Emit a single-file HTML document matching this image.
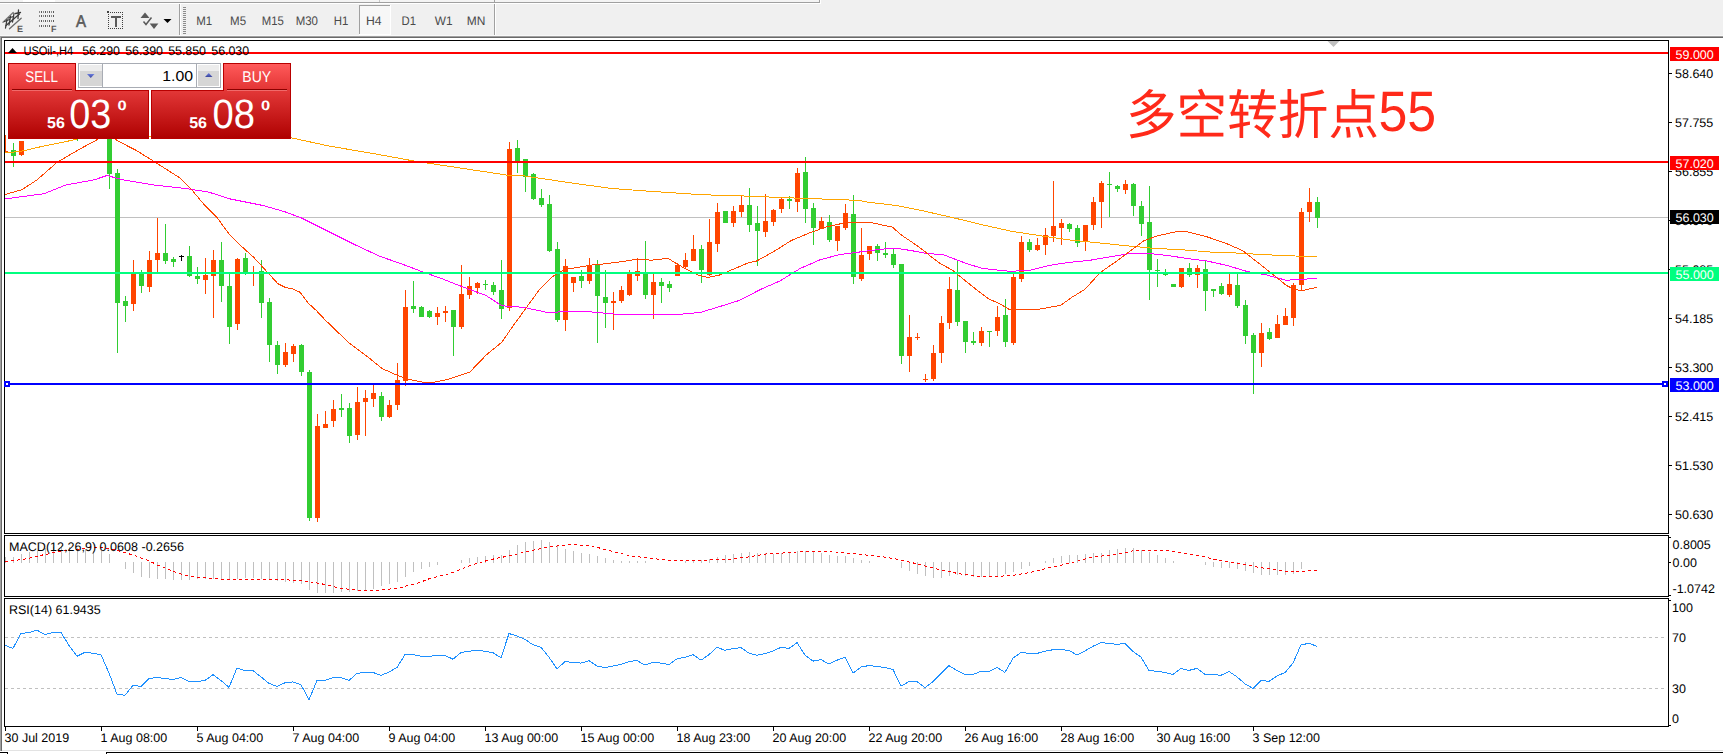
<!DOCTYPE html>
<html><head><meta charset="utf-8"><title>USOil H4</title>
<style>html,body{margin:0;padding:0;background:#f0f0f0;}body{width:1723px;height:754px;overflow:hidden;}text{text-rendering:geometricPrecision;}</style>
</head><body>
<svg width="1723" height="754" viewBox="0 0 1723 754" shape-rendering="crispEdges" style="display:block">
<defs>
<linearGradient id="gtab" x1="0" y1="0" x2="0" y2="1"><stop offset="0" stop-color="#ff5a5a"/><stop offset="1" stop-color="#e23434"/></linearGradient>
<linearGradient id="gbox" gradientUnits="userSpaceOnUse" x1="0" y1="90" x2="0" y2="139"><stop offset="0" stop-color="#e33838"/><stop offset="1" stop-color="#ae0000"/></linearGradient>
<linearGradient id="gtri" x1="0" y1="0" x2="0" y2="1"><stop offset="0" stop-color="#6a7ee0"/><stop offset="1" stop-color="#3a449a"/></linearGradient>
<clipPath id="cmain"><rect x="5" y="41" width="1663" height="492"/></clipPath>
<clipPath id="cmacd"><rect x="5" y="536" width="1663" height="60"/></clipPath>
<clipPath id="crsi"><rect x="5" y="599" width="1663" height="127"/></clipPath>
</defs>
<rect x="0" y="0" width="1723" height="754" fill="#f0f0f0"/>
<rect x="23" y="0" width="32" height="2" fill="#ffffff"/>
<rect x="0" y="2" width="820" height="1" fill="#a0a0a0"/>
<rect x="0" y="3" width="820" height="1" fill="#ffffff"/>
<rect x="819" y="0" width="1" height="3" fill="#a0a0a0"/>
<rect x="820" y="0" width="1" height="4" fill="#ffffff"/>
<rect x="0" y="0" width="819" height="2" fill="#f4f4f4"/>
<rect x="23" y="0" width="32" height="2" fill="#ffffff"/>
<rect x="494" y="0" width="1" height="3" fill="#a0a0a0"/>
<rect x="379" y="0" width="1" height="2" fill="#c8c8c8"/>
<g fill="none" shape-rendering="geometricPrecision" stroke-linecap="round"><line x1="3" y1="22.2" x2="13.2" y2="12.5" stroke="#7a7a7a" stroke-width="1.3"/><line x1="9.5" y1="28.7" x2="21.2" y2="18.3" stroke="#6a6a6a" stroke-width="1.3"/><g stroke="#3c3c3c" stroke-width="1.3"><line x1="5.5" y1="28" x2="7" y2="19.5"/><line x1="9" y1="25" x2="10.5" y2="16.5"/><line x1="12.5" y1="22" x2="14" y2="13.5"/><line x1="18" y1="18.5" x2="18.5" y2="10"/><line x1="4.5" y1="21.5" x2="9.5" y2="19.5"/><line x1="8.5" y1="18" x2="13.5" y2="16.5"/><line x1="15.5" y1="13.5" x2="20.5" y2="12.5"/><line x1="6" y1="25.5" x2="19.5" y2="14"/></g></g>
<text x="17" y="31.5" font-family='"Liberation Sans", "DejaVu Sans", sans-serif' font-size="9" fill="#5a5a5a" text-anchor="start" font-weight="bold">E</text>
<rect x="39" y="11" width="1" height="2" fill="#8a8a8a"/>
<rect x="41" y="11" width="1" height="2" fill="#5a5a5a"/>
<rect x="43" y="11" width="1" height="2" fill="#8a8a8a"/>
<rect x="45" y="11" width="1" height="2" fill="#5a5a5a"/>
<rect x="47" y="11" width="1" height="2" fill="#8a8a8a"/>
<rect x="49" y="11" width="1" height="2" fill="#5a5a5a"/>
<rect x="51" y="11" width="1" height="2" fill="#8a8a8a"/>
<rect x="53" y="11" width="1" height="2" fill="#5a5a5a"/>
<rect x="39" y="15" width="1" height="2" fill="#8a8a8a"/>
<rect x="41" y="15" width="1" height="2" fill="#5a5a5a"/>
<rect x="43" y="15" width="1" height="2" fill="#8a8a8a"/>
<rect x="45" y="15" width="1" height="2" fill="#5a5a5a"/>
<rect x="47" y="15" width="1" height="2" fill="#8a8a8a"/>
<rect x="49" y="15" width="1" height="2" fill="#5a5a5a"/>
<rect x="51" y="15" width="1" height="2" fill="#8a8a8a"/>
<rect x="53" y="15" width="1" height="2" fill="#5a5a5a"/>
<rect x="39" y="20" width="1" height="2" fill="#8a8a8a"/>
<rect x="41" y="20" width="1" height="2" fill="#5a5a5a"/>
<rect x="43" y="20" width="1" height="2" fill="#8a8a8a"/>
<rect x="45" y="20" width="1" height="2" fill="#5a5a5a"/>
<rect x="47" y="20" width="1" height="2" fill="#8a8a8a"/>
<rect x="49" y="20" width="1" height="2" fill="#5a5a5a"/>
<rect x="51" y="20" width="1" height="2" fill="#8a8a8a"/>
<rect x="53" y="20" width="1" height="2" fill="#5a5a5a"/>
<rect x="39" y="25" width="1" height="2" fill="#8a8a8a"/>
<rect x="41" y="25" width="1" height="2" fill="#5a5a5a"/>
<rect x="43" y="25" width="1" height="2" fill="#8a8a8a"/>
<rect x="45" y="25" width="1" height="2" fill="#5a5a5a"/>
<rect x="47" y="25" width="1" height="2" fill="#8a8a8a"/>
<rect x="49" y="25" width="1" height="2" fill="#5a5a5a"/>
<text x="51" y="31.5" font-family='"Liberation Sans", "DejaVu Sans", sans-serif' font-size="9" fill="#5a5a5a" text-anchor="start" font-weight="bold">F</text>
<text x="81" y="26.8" font-family='"Liberation Sans", "DejaVu Sans", sans-serif' font-size="17" fill="#5a5a5a" text-anchor="middle" font-weight="normal" textLength="10" lengthAdjust="spacingAndGlyphs" stroke="#5a5a5a" stroke-width="0.6">A</text>
<rect x="108" y="12" width="1" height="1" fill="#404040"/>
<rect x="108" y="28" width="1" height="1" fill="#404040"/>
<rect x="110" y="12" width="1" height="1" fill="#404040"/>
<rect x="110" y="28" width="1" height="1" fill="#404040"/>
<rect x="112" y="12" width="1" height="1" fill="#404040"/>
<rect x="112" y="28" width="1" height="1" fill="#404040"/>
<rect x="114" y="12" width="1" height="1" fill="#404040"/>
<rect x="114" y="28" width="1" height="1" fill="#404040"/>
<rect x="116" y="12" width="1" height="1" fill="#404040"/>
<rect x="116" y="28" width="1" height="1" fill="#404040"/>
<rect x="118" y="12" width="1" height="1" fill="#404040"/>
<rect x="118" y="28" width="1" height="1" fill="#404040"/>
<rect x="120" y="12" width="1" height="1" fill="#404040"/>
<rect x="120" y="28" width="1" height="1" fill="#404040"/>
<rect x="122" y="12" width="1" height="1" fill="#404040"/>
<rect x="122" y="28" width="1" height="1" fill="#404040"/>
<rect x="108" y="12" width="1" height="1" fill="#404040"/>
<rect x="122" y="12" width="1" height="1" fill="#404040"/>
<rect x="108" y="14" width="1" height="1" fill="#404040"/>
<rect x="122" y="14" width="1" height="1" fill="#404040"/>
<rect x="108" y="16" width="1" height="1" fill="#404040"/>
<rect x="122" y="16" width="1" height="1" fill="#404040"/>
<rect x="108" y="18" width="1" height="1" fill="#404040"/>
<rect x="122" y="18" width="1" height="1" fill="#404040"/>
<rect x="108" y="20" width="1" height="1" fill="#404040"/>
<rect x="122" y="20" width="1" height="1" fill="#404040"/>
<rect x="108" y="22" width="1" height="1" fill="#404040"/>
<rect x="122" y="22" width="1" height="1" fill="#404040"/>
<rect x="108" y="24" width="1" height="1" fill="#404040"/>
<rect x="122" y="24" width="1" height="1" fill="#404040"/>
<rect x="108" y="26" width="1" height="1" fill="#404040"/>
<rect x="122" y="26" width="1" height="1" fill="#404040"/>
<rect x="108" y="28" width="1" height="1" fill="#404040"/>
<rect x="122" y="28" width="1" height="1" fill="#404040"/>
<rect x="107" y="11" width="2" height="2" fill="#404040"/>
<rect x="111" y="16" width="10" height="2" fill="#5a5a5a"/>
<rect x="115" y="16" width="2" height="11" fill="#5a5a5a"/>
<g fill="#5a5a5a" shape-rendering="geometricPrecision"><polygon points="140.5,18 145,12.5 149.5,18"/><polygon points="149.7,23.5 158.4,23.5 154,29"/></g>
<polyline points="143.5,21.5 146,24.5 151.5,17.5" fill="none" stroke="#5a5a5a" stroke-width="1.5" shape-rendering="geometricPrecision"/>
<polygon points="163.5,19 171.5,19 167.5,23" fill="#000" shape-rendering="geometricPrecision"/>
<rect x="179" y="4" width="1" height="32" fill="#a0a0a0"/>
<rect x="180" y="4" width="1" height="32" fill="#ffffff"/>
<rect x="183" y="7" width="3" height="1" fill="#8c8c8c"/>
<rect x="183" y="9" width="3" height="1" fill="#8c8c8c"/>
<rect x="183" y="11" width="3" height="1" fill="#8c8c8c"/>
<rect x="183" y="13" width="3" height="1" fill="#8c8c8c"/>
<rect x="183" y="15" width="3" height="1" fill="#8c8c8c"/>
<rect x="183" y="17" width="3" height="1" fill="#8c8c8c"/>
<rect x="183" y="19" width="3" height="1" fill="#8c8c8c"/>
<rect x="183" y="21" width="3" height="1" fill="#8c8c8c"/>
<rect x="183" y="23" width="3" height="1" fill="#8c8c8c"/>
<rect x="183" y="25" width="3" height="1" fill="#8c8c8c"/>
<rect x="183" y="27" width="3" height="1" fill="#8c8c8c"/>
<rect x="183" y="29" width="3" height="1" fill="#8c8c8c"/>
<rect x="183" y="31" width="3" height="1" fill="#8c8c8c"/>
<rect x="183" y="33" width="3" height="1" fill="#8c8c8c"/>
<rect x="494" y="4" width="1" height="32" fill="#a0a0a0"/>
<rect x="495" y="4" width="1" height="32" fill="#ffffff"/>
<rect x="359" y="5" width="32" height="30" fill="#f7f7f7"/>
<rect x="359" y="5" width="32" height="1" fill="#a0a0a0"/>
<rect x="359" y="5" width="1" height="30" fill="#a0a0a0"/>
<rect x="359" y="34" width="32" height="1" fill="#ffffff"/>
<rect x="390" y="5" width="1" height="30" fill="#ffffff"/>
<text x="204.2" y="25.3" font-family='"Liberation Sans", "DejaVu Sans", sans-serif' font-size="12.5" fill="#4a4a4a" text-anchor="middle" font-weight="normal" textLength="16" lengthAdjust="spacingAndGlyphs">M1</text>
<text x="238.1" y="25.3" font-family='"Liberation Sans", "DejaVu Sans", sans-serif' font-size="12.5" fill="#4a4a4a" text-anchor="middle" font-weight="normal" textLength="16" lengthAdjust="spacingAndGlyphs">M5</text>
<text x="272.8" y="25.3" font-family='"Liberation Sans", "DejaVu Sans", sans-serif' font-size="12.5" fill="#4a4a4a" text-anchor="middle" font-weight="normal" textLength="22.1" lengthAdjust="spacingAndGlyphs">M15</text>
<text x="306.8" y="25.3" font-family='"Liberation Sans", "DejaVu Sans", sans-serif' font-size="12.5" fill="#4a4a4a" text-anchor="middle" font-weight="normal" textLength="22.3" lengthAdjust="spacingAndGlyphs">M30</text>
<text x="341" y="25.3" font-family='"Liberation Sans", "DejaVu Sans", sans-serif' font-size="12.5" fill="#4a4a4a" text-anchor="middle" font-weight="normal" textLength="14.6" lengthAdjust="spacingAndGlyphs">H1</text>
<text x="373.8" y="25.3" font-family='"Liberation Sans", "DejaVu Sans", sans-serif' font-size="12.5" fill="#4a4a4a" text-anchor="middle" font-weight="normal" textLength="15.6" lengthAdjust="spacingAndGlyphs">H4</text>
<text x="408.8" y="25.3" font-family='"Liberation Sans", "DejaVu Sans", sans-serif' font-size="12.5" fill="#4a4a4a" text-anchor="middle" font-weight="normal" textLength="14.5" lengthAdjust="spacingAndGlyphs">D1</text>
<text x="443.6" y="25.3" font-family='"Liberation Sans", "DejaVu Sans", sans-serif' font-size="12.5" fill="#4a4a4a" text-anchor="middle" font-weight="normal" textLength="17.8" lengthAdjust="spacingAndGlyphs">W1</text>
<text x="476.1" y="25.3" font-family='"Liberation Sans", "DejaVu Sans", sans-serif' font-size="12.5" fill="#4a4a4a" text-anchor="middle" font-weight="normal" textLength="18.6" lengthAdjust="spacingAndGlyphs">MN</text>
<rect x="0" y="35" width="1723" height="1" fill="#f8f8f8"/>
<rect x="0" y="36" width="1723" height="1" fill="#a0a0a0"/>
<rect x="1" y="37" width="1722" height="1" fill="#696969"/>
<rect x="0" y="36" width="1" height="715" fill="#a0a0a0"/>
<rect x="1" y="37" width="1" height="714" fill="#696969"/>
<rect x="2" y="38" width="1721" height="712" fill="#ffffff"/>
<rect x="2" y="750" width="1721" height="1" fill="#e3e3e3"/>
<rect x="0" y="751" width="1723" height="3" fill="#ffffff"/>
<rect x="0" y="752" width="8" height="1" fill="#000"/>
<rect x="106" y="752" width="1617" height="1" fill="#000"/>
<rect x="106" y="752" width="1" height="2" fill="#000"/>
<rect x="7" y="752" width="1" height="2" fill="#000"/>
<rect x="4" y="40" width="1665" height="1" fill="#000"/>
<rect x="4" y="533" width="1665" height="1" fill="#000"/>
<rect x="4" y="40" width="1" height="494" fill="#000"/>
<rect x="1668" y="40" width="1" height="494" fill="#000"/>
<rect x="4" y="535" width="1665" height="1" fill="#000"/>
<rect x="4" y="596" width="1665" height="1" fill="#000"/>
<rect x="4" y="535" width="1" height="62" fill="#000"/>
<rect x="1668" y="535" width="1" height="62" fill="#000"/>
<rect x="4" y="598" width="1665" height="1" fill="#000"/>
<rect x="4" y="726" width="1665" height="1" fill="#000"/>
<rect x="4" y="598" width="1" height="129" fill="#000"/>
<rect x="1668" y="598" width="1" height="129" fill="#000"/>
<g clip-path="url(#cmain)">
<rect x="5" y="217" width="1663" height="1" fill="#c0c0c0"/>
<rect x="5" y="135" width="1" height="18" fill="#FF4500"/>
<rect x="3" y="151" width="5" height="2" fill="#FF4500"/>
<rect x="13" y="143" width="1" height="24" fill="#32CD32"/>
<rect x="11" y="150" width="5" height="6" fill="#32CD32"/>
<rect x="21" y="141" width="1" height="15" fill="#FF4500"/>
<rect x="19" y="141" width="5" height="14" fill="#FF4500"/>
<rect x="77" y="125" width="1" height="16" fill="#32CD32"/>
<rect x="75" y="125" width="5" height="10" fill="#32CD32"/>
<rect x="109" y="120" width="1" height="69" fill="#32CD32"/>
<rect x="107" y="120" width="5" height="54" fill="#32CD32"/>
<rect x="117" y="169" width="1" height="184" fill="#32CD32"/>
<rect x="115" y="173" width="5" height="130" fill="#32CD32"/>
<rect x="125" y="296" width="1" height="26" fill="#32CD32"/>
<rect x="123" y="301" width="5" height="5" fill="#32CD32"/>
<rect x="133" y="260" width="1" height="51" fill="#FF4500"/>
<rect x="131" y="274" width="5" height="30" fill="#FF4500"/>
<rect x="141" y="270" width="1" height="23" fill="#32CD32"/>
<rect x="139" y="273" width="5" height="13" fill="#32CD32"/>
<rect x="149" y="251" width="1" height="41" fill="#FF4500"/>
<rect x="147" y="260" width="5" height="27" fill="#FF4500"/>
<rect x="157" y="218" width="1" height="54" fill="#FF4500"/>
<rect x="155" y="253" width="5" height="7" fill="#FF4500"/>
<rect x="165" y="224" width="1" height="40" fill="#32CD32"/>
<rect x="163" y="253" width="5" height="8" fill="#32CD32"/>
<rect x="173" y="257" width="1" height="10" fill="#32CD32"/>
<rect x="171" y="259" width="5" height="3" fill="#32CD32"/>
<rect x="181" y="255" width="1" height="6" fill="#000"/>
<rect x="179" y="256" width="5" height="1" fill="#000"/>
<rect x="189" y="246" width="1" height="31" fill="#32CD32"/>
<rect x="187" y="256" width="5" height="20" fill="#32CD32"/>
<rect x="197" y="267" width="1" height="17" fill="#32CD32"/>
<rect x="195" y="276" width="5" height="3" fill="#32CD32"/>
<rect x="205" y="258" width="1" height="36" fill="#FF4500"/>
<rect x="203" y="275" width="5" height="5" fill="#FF4500"/>
<rect x="213" y="250" width="1" height="68" fill="#FF4500"/>
<rect x="211" y="260" width="5" height="16" fill="#FF4500"/>
<rect x="221" y="242" width="1" height="60" fill="#32CD32"/>
<rect x="219" y="260" width="5" height="26" fill="#32CD32"/>
<rect x="229" y="274" width="1" height="70" fill="#32CD32"/>
<rect x="227" y="286" width="5" height="41" fill="#32CD32"/>
<rect x="237" y="258" width="1" height="72" fill="#FF4500"/>
<rect x="235" y="259" width="5" height="65" fill="#FF4500"/>
<rect x="245" y="253" width="1" height="22" fill="#32CD32"/>
<rect x="243" y="258" width="5" height="15" fill="#32CD32"/>
<rect x="253" y="266" width="1" height="20" fill="#FF4500"/>
<rect x="251" y="272" width="5" height="1" fill="#FF4500"/>
<rect x="261" y="260" width="1" height="58" fill="#32CD32"/>
<rect x="259" y="271" width="5" height="32" fill="#32CD32"/>
<rect x="269" y="298" width="1" height="64" fill="#32CD32"/>
<rect x="267" y="302" width="5" height="43" fill="#32CD32"/>
<rect x="277" y="341" width="1" height="33" fill="#32CD32"/>
<rect x="275" y="345" width="5" height="20" fill="#32CD32"/>
<rect x="285" y="343" width="1" height="24" fill="#FF4500"/>
<rect x="283" y="352" width="5" height="13" fill="#FF4500"/>
<rect x="293" y="344" width="1" height="18" fill="#FF4500"/>
<rect x="291" y="346" width="5" height="8" fill="#FF4500"/>
<rect x="301" y="344" width="1" height="32" fill="#32CD32"/>
<rect x="299" y="345" width="5" height="27" fill="#32CD32"/>
<rect x="309" y="370" width="1" height="151" fill="#32CD32"/>
<rect x="307" y="372" width="5" height="146" fill="#32CD32"/>
<rect x="317" y="414" width="1" height="108" fill="#FF4500"/>
<rect x="315" y="426" width="5" height="92" fill="#FF4500"/>
<rect x="325" y="411" width="1" height="17" fill="#FF4500"/>
<rect x="323" y="424" width="5" height="4" fill="#FF4500"/>
<rect x="333" y="400" width="1" height="27" fill="#FF4500"/>
<rect x="331" y="409" width="5" height="12" fill="#FF4500"/>
<rect x="341" y="394" width="1" height="23" fill="#32CD32"/>
<rect x="339" y="408" width="5" height="2" fill="#32CD32"/>
<rect x="349" y="403" width="1" height="40" fill="#32CD32"/>
<rect x="347" y="408" width="5" height="28" fill="#32CD32"/>
<rect x="357" y="387" width="1" height="53" fill="#FF4500"/>
<rect x="355" y="402" width="5" height="33" fill="#FF4500"/>
<rect x="365" y="390" width="1" height="46" fill="#FF4500"/>
<rect x="363" y="398" width="5" height="4" fill="#FF4500"/>
<rect x="373" y="384" width="1" height="23" fill="#FF4500"/>
<rect x="371" y="393" width="5" height="6" fill="#FF4500"/>
<rect x="381" y="392" width="1" height="29" fill="#32CD32"/>
<rect x="379" y="396" width="5" height="21" fill="#32CD32"/>
<rect x="389" y="400" width="1" height="18" fill="#FF4500"/>
<rect x="387" y="405" width="5" height="12" fill="#FF4500"/>
<rect x="397" y="363" width="1" height="47" fill="#FF4500"/>
<rect x="395" y="380" width="5" height="25" fill="#FF4500"/>
<rect x="405" y="290" width="1" height="96" fill="#FF4500"/>
<rect x="403" y="307" width="5" height="74" fill="#FF4500"/>
<rect x="413" y="281" width="1" height="32" fill="#32CD32"/>
<rect x="411" y="306" width="5" height="3" fill="#32CD32"/>
<rect x="421" y="306" width="1" height="11" fill="#32CD32"/>
<rect x="419" y="307" width="5" height="10" fill="#32CD32"/>
<rect x="429" y="310" width="1" height="8" fill="#32CD32"/>
<rect x="427" y="311" width="5" height="6" fill="#32CD32"/>
<rect x="437" y="307" width="1" height="18" fill="#FF4500"/>
<rect x="435" y="313" width="5" height="4" fill="#FF4500"/>
<rect x="445" y="306" width="1" height="16" fill="#FF4500"/>
<rect x="443" y="311" width="5" height="2" fill="#FF4500"/>
<rect x="453" y="310" width="1" height="46" fill="#32CD32"/>
<rect x="451" y="310" width="5" height="17" fill="#32CD32"/>
<rect x="461" y="265" width="1" height="64" fill="#FF4500"/>
<rect x="459" y="294" width="5" height="33" fill="#FF4500"/>
<rect x="469" y="277" width="1" height="22" fill="#FF4500"/>
<rect x="467" y="286" width="5" height="9" fill="#FF4500"/>
<rect x="477" y="282" width="1" height="12" fill="#FF4500"/>
<rect x="475" y="283" width="5" height="5" fill="#FF4500"/>
<rect x="485" y="280" width="1" height="10" fill="#32CD32"/>
<rect x="483" y="284" width="5" height="1" fill="#32CD32"/>
<rect x="493" y="282" width="1" height="13" fill="#32CD32"/>
<rect x="491" y="285" width="5" height="7" fill="#32CD32"/>
<rect x="501" y="260" width="1" height="59" fill="#32CD32"/>
<rect x="499" y="290" width="5" height="19" fill="#32CD32"/>
<rect x="509" y="142" width="1" height="169" fill="#FF4500"/>
<rect x="507" y="149" width="5" height="159" fill="#FF4500"/>
<rect x="517" y="140" width="1" height="33" fill="#32CD32"/>
<rect x="515" y="148" width="5" height="14" fill="#32CD32"/>
<rect x="525" y="159" width="1" height="33" fill="#32CD32"/>
<rect x="523" y="159" width="5" height="18" fill="#32CD32"/>
<rect x="533" y="173" width="1" height="27" fill="#32CD32"/>
<rect x="531" y="174" width="5" height="25" fill="#32CD32"/>
<rect x="541" y="189" width="1" height="18" fill="#32CD32"/>
<rect x="539" y="198" width="5" height="7" fill="#32CD32"/>
<rect x="549" y="195" width="1" height="57" fill="#32CD32"/>
<rect x="547" y="204" width="5" height="47" fill="#32CD32"/>
<rect x="557" y="242" width="1" height="80" fill="#32CD32"/>
<rect x="555" y="249" width="5" height="71" fill="#32CD32"/>
<rect x="565" y="259" width="1" height="72" fill="#FF4500"/>
<rect x="563" y="266" width="5" height="54" fill="#FF4500"/>
<rect x="573" y="277" width="1" height="15" fill="#FF4500"/>
<rect x="571" y="277" width="5" height="6" fill="#FF4500"/>
<rect x="581" y="270" width="1" height="18" fill="#32CD32"/>
<rect x="579" y="276" width="5" height="5" fill="#32CD32"/>
<rect x="589" y="258" width="1" height="26" fill="#FF4500"/>
<rect x="587" y="265" width="5" height="16" fill="#FF4500"/>
<rect x="597" y="260" width="1" height="83" fill="#32CD32"/>
<rect x="595" y="264" width="5" height="32" fill="#32CD32"/>
<rect x="605" y="270" width="1" height="58" fill="#32CD32"/>
<rect x="603" y="297" width="5" height="6" fill="#32CD32"/>
<rect x="613" y="292" width="1" height="38" fill="#FF4500"/>
<rect x="611" y="301" width="5" height="2" fill="#FF4500"/>
<rect x="621" y="286" width="1" height="17" fill="#FF4500"/>
<rect x="619" y="290" width="5" height="11" fill="#FF4500"/>
<rect x="629" y="270" width="1" height="26" fill="#FF4500"/>
<rect x="627" y="274" width="5" height="21" fill="#FF4500"/>
<rect x="637" y="258" width="1" height="23" fill="#FF4500"/>
<rect x="635" y="271" width="5" height="5" fill="#FF4500"/>
<rect x="645" y="241" width="1" height="58" fill="#32CD32"/>
<rect x="643" y="272" width="5" height="23" fill="#32CD32"/>
<rect x="653" y="274" width="1" height="45" fill="#FF4500"/>
<rect x="651" y="282" width="5" height="13" fill="#FF4500"/>
<rect x="661" y="278" width="1" height="25" fill="#32CD32"/>
<rect x="659" y="282" width="5" height="4" fill="#32CD32"/>
<rect x="669" y="281" width="1" height="11" fill="#32CD32"/>
<rect x="667" y="284" width="5" height="4" fill="#32CD32"/>
<rect x="677" y="263" width="1" height="13" fill="#FF4500"/>
<rect x="675" y="265" width="5" height="11" fill="#FF4500"/>
<rect x="685" y="253" width="1" height="15" fill="#FF4500"/>
<rect x="683" y="260" width="5" height="7" fill="#FF4500"/>
<rect x="693" y="235" width="1" height="26" fill="#FF4500"/>
<rect x="691" y="249" width="5" height="12" fill="#FF4500"/>
<rect x="701" y="245" width="1" height="38" fill="#32CD32"/>
<rect x="699" y="249" width="5" height="21" fill="#32CD32"/>
<rect x="709" y="219" width="1" height="57" fill="#FF4500"/>
<rect x="707" y="242" width="5" height="33" fill="#FF4500"/>
<rect x="717" y="203" width="1" height="49" fill="#FF4500"/>
<rect x="715" y="212" width="5" height="32" fill="#FF4500"/>
<rect x="725" y="211" width="1" height="12" fill="#32CD32"/>
<rect x="723" y="211" width="5" height="12" fill="#32CD32"/>
<rect x="733" y="206" width="1" height="21" fill="#FF4500"/>
<rect x="731" y="211" width="5" height="12" fill="#FF4500"/>
<rect x="741" y="195" width="1" height="22" fill="#FF4500"/>
<rect x="739" y="205" width="5" height="7" fill="#FF4500"/>
<rect x="749" y="188" width="1" height="44" fill="#32CD32"/>
<rect x="747" y="205" width="5" height="20" fill="#32CD32"/>
<rect x="757" y="206" width="1" height="60" fill="#32CD32"/>
<rect x="755" y="223" width="5" height="8" fill="#32CD32"/>
<rect x="765" y="194" width="1" height="43" fill="#FF4500"/>
<rect x="763" y="221" width="5" height="11" fill="#FF4500"/>
<rect x="773" y="209" width="1" height="17" fill="#FF4500"/>
<rect x="771" y="210" width="5" height="12" fill="#FF4500"/>
<rect x="781" y="197" width="1" height="16" fill="#FF4500"/>
<rect x="779" y="199" width="5" height="10" fill="#FF4500"/>
<rect x="789" y="196" width="1" height="13" fill="#32CD32"/>
<rect x="787" y="199" width="5" height="2" fill="#32CD32"/>
<rect x="797" y="168" width="1" height="44" fill="#FF4500"/>
<rect x="795" y="173" width="5" height="29" fill="#FF4500"/>
<rect x="805" y="157" width="1" height="66" fill="#32CD32"/>
<rect x="803" y="172" width="5" height="37" fill="#32CD32"/>
<rect x="813" y="203" width="1" height="42" fill="#32CD32"/>
<rect x="811" y="208" width="5" height="20" fill="#32CD32"/>
<rect x="821" y="217" width="1" height="12" fill="#FF4500"/>
<rect x="819" y="221" width="5" height="8" fill="#FF4500"/>
<rect x="829" y="215" width="1" height="27" fill="#32CD32"/>
<rect x="827" y="222" width="5" height="18" fill="#32CD32"/>
<rect x="837" y="226" width="1" height="25" fill="#FF4500"/>
<rect x="835" y="226" width="5" height="15" fill="#FF4500"/>
<rect x="845" y="204" width="1" height="26" fill="#FF4500"/>
<rect x="843" y="213" width="5" height="15" fill="#FF4500"/>
<rect x="853" y="195" width="1" height="89" fill="#32CD32"/>
<rect x="851" y="214" width="5" height="63" fill="#32CD32"/>
<rect x="861" y="228" width="1" height="53" fill="#FF4500"/>
<rect x="859" y="255" width="5" height="24" fill="#FF4500"/>
<rect x="869" y="246" width="1" height="14" fill="#FF4500"/>
<rect x="867" y="246" width="5" height="8" fill="#FF4500"/>
<rect x="877" y="244" width="1" height="17" fill="#32CD32"/>
<rect x="875" y="246" width="5" height="7" fill="#32CD32"/>
<rect x="885" y="242" width="1" height="16" fill="#32CD32"/>
<rect x="883" y="253" width="5" height="2" fill="#32CD32"/>
<rect x="893" y="249" width="1" height="19" fill="#32CD32"/>
<rect x="891" y="254" width="5" height="11" fill="#32CD32"/>
<rect x="901" y="264" width="1" height="100" fill="#32CD32"/>
<rect x="899" y="264" width="5" height="92" fill="#32CD32"/>
<rect x="909" y="315" width="1" height="57" fill="#FF4500"/>
<rect x="907" y="337" width="5" height="19" fill="#FF4500"/>
<rect x="917" y="333" width="1" height="7" fill="#FF4500"/>
<rect x="915" y="337" width="5" height="1" fill="#FF4500"/>
<rect x="925" y="374" width="1" height="8" fill="#FF4500"/>
<rect x="923" y="379" width="5" height="1" fill="#FF4500"/>
<rect x="933" y="345" width="1" height="36" fill="#FF4500"/>
<rect x="931" y="353" width="5" height="26" fill="#FF4500"/>
<rect x="941" y="316" width="1" height="47" fill="#FF4500"/>
<rect x="939" y="323" width="5" height="30" fill="#FF4500"/>
<rect x="949" y="277" width="1" height="52" fill="#FF4500"/>
<rect x="947" y="289" width="5" height="34" fill="#FF4500"/>
<rect x="957" y="261" width="1" height="65" fill="#32CD32"/>
<rect x="955" y="290" width="5" height="32" fill="#32CD32"/>
<rect x="965" y="321" width="1" height="32" fill="#32CD32"/>
<rect x="963" y="321" width="5" height="21" fill="#32CD32"/>
<rect x="973" y="332" width="1" height="13" fill="#32CD32"/>
<rect x="971" y="341" width="5" height="2" fill="#32CD32"/>
<rect x="981" y="327" width="1" height="19" fill="#FF4500"/>
<rect x="979" y="331" width="5" height="12" fill="#FF4500"/>
<rect x="989" y="331" width="1" height="16" fill="#32CD32"/>
<rect x="987" y="331" width="5" height="1" fill="#32CD32"/>
<rect x="997" y="306" width="1" height="30" fill="#FF4500"/>
<rect x="995" y="317" width="5" height="14" fill="#FF4500"/>
<rect x="1005" y="299" width="1" height="48" fill="#32CD32"/>
<rect x="1003" y="315" width="5" height="27" fill="#32CD32"/>
<rect x="1013" y="271" width="1" height="74" fill="#FF4500"/>
<rect x="1011" y="277" width="5" height="66" fill="#FF4500"/>
<rect x="1021" y="236" width="1" height="46" fill="#FF4500"/>
<rect x="1019" y="242" width="5" height="37" fill="#FF4500"/>
<rect x="1029" y="239" width="1" height="13" fill="#32CD32"/>
<rect x="1027" y="242" width="5" height="8" fill="#32CD32"/>
<rect x="1037" y="238" width="1" height="13" fill="#FF4500"/>
<rect x="1035" y="245" width="5" height="5" fill="#FF4500"/>
<rect x="1045" y="228" width="1" height="27" fill="#FF4500"/>
<rect x="1043" y="235" width="5" height="10" fill="#FF4500"/>
<rect x="1053" y="181" width="1" height="61" fill="#FF4500"/>
<rect x="1051" y="226" width="5" height="10" fill="#FF4500"/>
<rect x="1061" y="219" width="1" height="26" fill="#FF4500"/>
<rect x="1059" y="223" width="5" height="5" fill="#FF4500"/>
<rect x="1069" y="223" width="1" height="9" fill="#32CD32"/>
<rect x="1067" y="224" width="5" height="5" fill="#32CD32"/>
<rect x="1077" y="225" width="1" height="22" fill="#32CD32"/>
<rect x="1075" y="228" width="5" height="15" fill="#32CD32"/>
<rect x="1085" y="225" width="1" height="26" fill="#FF4500"/>
<rect x="1083" y="225" width="5" height="17" fill="#FF4500"/>
<rect x="1093" y="197" width="1" height="33" fill="#FF4500"/>
<rect x="1091" y="202" width="5" height="23" fill="#FF4500"/>
<rect x="1101" y="181" width="1" height="47" fill="#FF4500"/>
<rect x="1099" y="183" width="5" height="19" fill="#FF4500"/>
<rect x="1109" y="172" width="1" height="45" fill="#32CD32"/>
<rect x="1107" y="184" width="5" height="1" fill="#32CD32"/>
<rect x="1117" y="185" width="1" height="7" fill="#32CD32"/>
<rect x="1115" y="186" width="5" height="3" fill="#32CD32"/>
<rect x="1125" y="180" width="1" height="14" fill="#FF4500"/>
<rect x="1123" y="184" width="5" height="6" fill="#FF4500"/>
<rect x="1133" y="183" width="1" height="33" fill="#32CD32"/>
<rect x="1131" y="184" width="5" height="22" fill="#32CD32"/>
<rect x="1141" y="201" width="1" height="35" fill="#32CD32"/>
<rect x="1139" y="206" width="5" height="18" fill="#32CD32"/>
<rect x="1149" y="186" width="1" height="114" fill="#32CD32"/>
<rect x="1147" y="222" width="5" height="48" fill="#32CD32"/>
<rect x="1157" y="259" width="1" height="28" fill="#32CD32"/>
<rect x="1155" y="270" width="5" height="1" fill="#32CD32"/>
<rect x="1165" y="269" width="1" height="7" fill="#32CD32"/>
<rect x="1163" y="272" width="5" height="3" fill="#32CD32"/>
<rect x="1173" y="284" width="1" height="3" fill="#32CD32"/>
<rect x="1171" y="284" width="5" height="3" fill="#32CD32"/>
<rect x="1181" y="268" width="1" height="20" fill="#FF4500"/>
<rect x="1179" y="268" width="5" height="19" fill="#FF4500"/>
<rect x="1189" y="263" width="1" height="14" fill="#32CD32"/>
<rect x="1187" y="268" width="5" height="7" fill="#32CD32"/>
<rect x="1197" y="265" width="1" height="23" fill="#FF4500"/>
<rect x="1195" y="268" width="5" height="7" fill="#FF4500"/>
<rect x="1205" y="261" width="1" height="50" fill="#32CD32"/>
<rect x="1203" y="269" width="5" height="22" fill="#32CD32"/>
<rect x="1213" y="289" width="1" height="8" fill="#32CD32"/>
<rect x="1211" y="289" width="5" height="2" fill="#32CD32"/>
<rect x="1221" y="283" width="1" height="12" fill="#32CD32"/>
<rect x="1219" y="286" width="5" height="8" fill="#32CD32"/>
<rect x="1229" y="273" width="1" height="24" fill="#FF4500"/>
<rect x="1227" y="284" width="5" height="11" fill="#FF4500"/>
<rect x="1237" y="274" width="1" height="34" fill="#32CD32"/>
<rect x="1235" y="285" width="5" height="21" fill="#32CD32"/>
<rect x="1245" y="300" width="1" height="44" fill="#32CD32"/>
<rect x="1243" y="305" width="5" height="31" fill="#32CD32"/>
<rect x="1253" y="333" width="1" height="61" fill="#32CD32"/>
<rect x="1251" y="335" width="5" height="18" fill="#32CD32"/>
<rect x="1261" y="323" width="1" height="44" fill="#FF4500"/>
<rect x="1259" y="333" width="5" height="20" fill="#FF4500"/>
<rect x="1269" y="328" width="1" height="12" fill="#32CD32"/>
<rect x="1267" y="332" width="5" height="7" fill="#32CD32"/>
<rect x="1277" y="315" width="1" height="23" fill="#FF4500"/>
<rect x="1275" y="324" width="5" height="14" fill="#FF4500"/>
<rect x="1285" y="308" width="1" height="17" fill="#FF4500"/>
<rect x="1283" y="316" width="5" height="9" fill="#FF4500"/>
<rect x="1293" y="283" width="1" height="43" fill="#FF4500"/>
<rect x="1291" y="285" width="5" height="33" fill="#FF4500"/>
<rect x="1301" y="208" width="1" height="83" fill="#FF4500"/>
<rect x="1299" y="212" width="5" height="73" fill="#FF4500"/>
<rect x="1309" y="188" width="1" height="34" fill="#FF4500"/>
<rect x="1307" y="202" width="5" height="10" fill="#FF4500"/>
<rect x="1317" y="197" width="1" height="31" fill="#32CD32"/>
<rect x="1315" y="202" width="5" height="16" fill="#32CD32"/>
<polyline points="5,153 24,150.8 44,145.9 66,141.6 90,136 280,137 292,138 329,146 378,154.4 415,161.2 451,166.6 507,175.1 524,175.9 573,183.2 612,188.5 646,191 700,194.6 714,195.1 754,196.3 778,197.4 818,198.9 830,199.2 860,200.5 866,201.9 897,205.6 925,211.3 954,217.9 982,224.7 1011,231.2 1039,235.5 1068,239.8 1096,242.6 1124,245.5 1153,248.3 1181,249.7 1210,252 1238,253.1 1267,254.8 1295,256 1317,256.3" fill="none" stroke="#FFA500" stroke-width="1"/>
<polyline points="5,198.9 44,193.7 66,184.9 94,179.9 107,175.5 123,179.9 153,184.9 186,188.6 208,191.9 230,198.9 263,205.5 284.5,211.6 302,218.2 326.5,230.5 353,243.8 379.6,256.2 401,263.7 422,271.6 443,279.1 464.5,287.6 486,295.5 501.6,305.6 512,306.7 523,307.2 549,312.8 565,311.4 592,312 620,314.6 640,315 680,314.3 700,312.5 720,306.5 740,300.2 760,289.7 780,280.9 800,268.6 820,259.8 840,254.5 880,249.4 892,248.2 902,249.1 917,251.6 928,253.7 943,254.5 956,259.6 968,264 982,268.3 990,269.3 1009.7,271.3 1029.5,270.3 1049.2,265.4 1068.9,262.4 1088.7,260.5 1108.4,257.1 1128.1,253.9 1145.9,253.1 1167.6,255.5 1187.3,258.5 1207,261 1226.8,265.4 1246.5,271.3 1266.2,274.9 1286,280.2 1297.8,279.6 1316.6,278.4" fill="none" stroke="#FF00FF" stroke-width="1"/>
<polyline points="5,194.5 22,189.7 37,179.9 57,162.4 72,153.6 87.5,144.8 95,141.1 107,132 118,141.1 136,150.3 153,160.8 179.5,177.7 192.6,190.8 203.5,203.9 216.7,217.1 228.7,233.5 243,247.7 254,257.6 265,269.6 278,283.8 285.5,287.5 292,288.7 300,292.2 308,303 316,310.2 324.5,319.3 348,342 369,357.9 382,368.5 398,375.6 411,379.9 425,382.5 433,382.5 449,379.1 470,371.9 486,355.2 502,342 512,327.4 525.5,308.8 539,290.2 552,276.9 565,269.5 592,265 600,264.4 617,262.3 635,259.6 652,260.1 668,258.3 675,262.7 687,269.7 697.5,274.9 708,277.5 720,274.9 732,269.7 748,263 757,260.9 774,251.4 791.5,240.4 809,233.1 826,227 844,223 856,222.6 870,222.3 887,226.1 892,226.8 902,235.5 912,242.1 924,250.8 931,256.7 941,264 953,270.5 959,275.6 968,282.9 979,291.7 989,299 999.9,303.9 1009.7,309.8 1019.6,309.8 1039.3,309.2 1061,305.2 1070.9,297.9 1084.7,289.5 1100.5,272.3 1116.3,261.4 1132.1,249.6 1143.9,240.7 1157.7,235.8 1177.5,231.4 1187.3,231.8 1207,236.8 1226.8,243.7 1242.6,250.6 1256.4,261.4 1270.2,272.3 1286,285.1 1293.9,289.5 1301.8,290.6 1316.6,287.5" fill="none" stroke="#FF4500" stroke-width="1"/>
<rect x="5" y="52" width="1663" height="2" fill="#FF0000"/>
<rect x="5" y="161" width="1663" height="2" fill="#FF0000"/>
<rect x="5" y="272" width="1663" height="2" fill="#00FF7F"/>
<rect x="5" y="383" width="1663" height="2" fill="#0000FF"/>
<polygon points="1327.5,41 1339.5,41 1333.5,47" fill="#c0c0c0" shape-rendering="geometricPrecision"/>
</g>
<rect x="4" y="381" width="6" height="6" fill="#0000FF"/>
<rect x="6" y="383" width="2" height="2" fill="#ffffff"/>
<rect x="1662" y="381" width="6" height="6" fill="#0000FF"/>
<rect x="1664" y="383" width="2" height="2" fill="#ffffff"/>
<polygon points="8,53 17,53 12.5,48" fill="#000" shape-rendering="geometricPrecision"/>
<text x="23.4" y="54.5" font-family='"Liberation Sans", "DejaVu Sans", sans-serif' font-size="12.5" fill="#000" text-anchor="start" font-weight="normal" textLength="49.8" lengthAdjust="spacingAndGlyphs">USOil-,H4</text>
<text x="82.2" y="54.5" font-family='"Liberation Sans", "DejaVu Sans", sans-serif' font-size="12.5" fill="#000" text-anchor="start" font-weight="normal" textLength="37.8" lengthAdjust="spacingAndGlyphs">56.290</text>
<text x="125.2" y="54.5" font-family='"Liberation Sans", "DejaVu Sans", sans-serif' font-size="12.5" fill="#000" text-anchor="start" font-weight="normal" textLength="37.8" lengthAdjust="spacingAndGlyphs">56.390</text>
<text x="168.2" y="54.5" font-family='"Liberation Sans", "DejaVu Sans", sans-serif' font-size="12.5" fill="#000" text-anchor="start" font-weight="normal" textLength="37.8" lengthAdjust="spacingAndGlyphs">55.850</text>
<text x="211.3" y="54.5" font-family='"Liberation Sans", "DejaVu Sans", sans-serif' font-size="12.5" fill="#000" text-anchor="start" font-weight="normal" textLength="37.8" lengthAdjust="spacingAndGlyphs">56.030</text>
<text x="1126" y="133.5" font-family='"Liberation Sans", "Noto Sans CJK SC", "WenQuanYi Zen Hei", sans-serif' font-size="53.5" fill="#FF2A1A" text-anchor="start" font-weight="normal" textLength="253" lengthAdjust="spacingAndGlyphs">多空转折点</text>
<text x="1378.5" y="131" font-family='"Liberation Sans", "DejaVu Sans", sans-serif' font-size="57" fill="#FF2A1A" text-anchor="start" font-weight="normal" textLength="57.7" lengthAdjust="spacingAndGlyphs">55</text>
<path d="M8.5,63.5 H75.5 V90.5 H148.5 V138.5 H8.5 Z" fill="url(#gbox)" stroke="#b80000" stroke-width="1"/>
<rect x="9" y="64" width="66" height="26" fill="url(#gtab)"/>
<rect x="12" y="89" width="60" height="1" fill="#8b0000"/>
<rect x="12" y="90" width="60" height="1" fill="#f06a6a"/>
<path d="M223.5,63.5 H290.5 V138.5 H151.5 V90.5 H223.5 Z" fill="url(#gbox)" stroke="#b80000" stroke-width="1"/>
<rect x="224" y="64" width="66" height="26" fill="url(#gtab)"/>
<rect x="227" y="89" width="60" height="1" fill="#8b0000"/>
<rect x="227" y="90" width="60" height="1" fill="#f06a6a"/>
<rect x="76" y="63" width="147" height="27" fill="#ffffff"/>
<rect x="78.5" y="63.5" width="142" height="24" fill="#fff" stroke="#a8acb4"/>
<rect x="102" y="63" width="1" height="25" fill="#a8acb4"/>
<rect x="196" y="63" width="1" height="25" fill="#a8acb4"/>
<rect x="80" y="65" width="22" height="6" fill="#ececec"/>
<rect x="80" y="71" width="22" height="15" fill="#d6d6d6"/>
<rect x="198" y="65" width="21" height="6" fill="#ececec"/>
<rect x="198" y="71" width="21" height="15" fill="#d6d6d6"/>
<polygon points="87,74 94.5,74 90.75,78" fill="url(#gtri)" shape-rendering="geometricPrecision"/>
<polygon points="205,77 212.5,77 208.75,73" fill="url(#gtri)" shape-rendering="geometricPrecision"/>
<text x="193" y="81" font-family='"Liberation Sans", "DejaVu Sans", sans-serif' font-size="14.5" fill="#000" text-anchor="end" font-weight="normal" textLength="30.8" lengthAdjust="spacingAndGlyphs">1.00</text>
<text x="41.6" y="82" font-family='"Liberation Sans", "DejaVu Sans", sans-serif' font-size="15.5" fill="#fff" text-anchor="middle" font-weight="normal" textLength="32.8" lengthAdjust="spacingAndGlyphs">SELL</text>
<text x="256.7" y="82" font-family='"Liberation Sans", "DejaVu Sans", sans-serif' font-size="15.5" fill="#fff" text-anchor="middle" font-weight="normal" textLength="28.8" lengthAdjust="spacingAndGlyphs">BUY</text>
<text x="47" y="128.3" font-family='"Liberation Sans", "DejaVu Sans", sans-serif' font-size="15.5" fill="#fff" text-anchor="start" font-weight="bold" textLength="17.8" lengthAdjust="spacingAndGlyphs">56</text>
<text x="69.3" y="128.3" font-family='"Liberation Sans", "DejaVu Sans", sans-serif' font-size="41" fill="#fff" text-anchor="start" font-weight="normal" textLength="42" lengthAdjust="spacingAndGlyphs">03</text>
<text x="117.5" y="109.6" font-family='"Liberation Sans", "DejaVu Sans", sans-serif' font-size="13.5" fill="#fff" text-anchor="start" font-weight="bold" textLength="9.2" lengthAdjust="spacingAndGlyphs">0</text>
<text x="189.2" y="128.3" font-family='"Liberation Sans", "DejaVu Sans", sans-serif' font-size="15.5" fill="#fff" text-anchor="start" font-weight="bold" textLength="17.8" lengthAdjust="spacingAndGlyphs">56</text>
<text x="212.4" y="128.3" font-family='"Liberation Sans", "DejaVu Sans", sans-serif' font-size="41" fill="#fff" text-anchor="start" font-weight="normal" textLength="42.5" lengthAdjust="spacingAndGlyphs">08</text>
<text x="261" y="109.8" font-family='"Liberation Sans", "DejaVu Sans", sans-serif' font-size="13.5" fill="#fff" text-anchor="start" font-weight="bold" textLength="9.2" lengthAdjust="spacingAndGlyphs">0</text>
<rect x="1669" y="73" width="3" height="1" fill="#000"/>
<text x="1675" y="78" font-family='"Liberation Sans", "DejaVu Sans", sans-serif' font-size="12.5" fill="#000" text-anchor="start" font-weight="normal">58.640</text>
<rect x="1669" y="122" width="3" height="1" fill="#000"/>
<text x="1675" y="127" font-family='"Liberation Sans", "DejaVu Sans", sans-serif' font-size="12.5" fill="#000" text-anchor="start" font-weight="normal">57.755</text>
<rect x="1669" y="171" width="3" height="1" fill="#000"/>
<text x="1675" y="176" font-family='"Liberation Sans", "DejaVu Sans", sans-serif' font-size="12.5" fill="#000" text-anchor="start" font-weight="normal">56.855</text>
<rect x="1669" y="220" width="3" height="1" fill="#000"/>
<text x="1675" y="225" font-family='"Liberation Sans", "DejaVu Sans", sans-serif' font-size="12.5" fill="#000" text-anchor="start" font-weight="normal">55.970</text>
<rect x="1669" y="269" width="3" height="1" fill="#000"/>
<text x="1675" y="274" font-family='"Liberation Sans", "DejaVu Sans", sans-serif' font-size="12.5" fill="#000" text-anchor="start" font-weight="normal">55.085</text>
<rect x="1669" y="318" width="3" height="1" fill="#000"/>
<text x="1675" y="323" font-family='"Liberation Sans", "DejaVu Sans", sans-serif' font-size="12.5" fill="#000" text-anchor="start" font-weight="normal">54.185</text>
<rect x="1669" y="367" width="3" height="1" fill="#000"/>
<text x="1675" y="372" font-family='"Liberation Sans", "DejaVu Sans", sans-serif' font-size="12.5" fill="#000" text-anchor="start" font-weight="normal">53.300</text>
<rect x="1669" y="416" width="3" height="1" fill="#000"/>
<text x="1675" y="421" font-family='"Liberation Sans", "DejaVu Sans", sans-serif' font-size="12.5" fill="#000" text-anchor="start" font-weight="normal">52.415</text>
<rect x="1669" y="465" width="3" height="1" fill="#000"/>
<text x="1675" y="470" font-family='"Liberation Sans", "DejaVu Sans", sans-serif' font-size="12.5" fill="#000" text-anchor="start" font-weight="normal">51.530</text>
<rect x="1669" y="514" width="3" height="1" fill="#000"/>
<text x="1675" y="519" font-family='"Liberation Sans", "DejaVu Sans", sans-serif' font-size="12.5" fill="#000" text-anchor="start" font-weight="normal">50.630</text>
<rect x="1670" y="47" width="49" height="14" fill="#FF0000"/>
<text x="1675.5" y="58.5" font-family='"Liberation Sans", "DejaVu Sans", sans-serif' font-size="12.5" fill="#fff" text-anchor="start" font-weight="normal">59.000</text>
<rect x="1670" y="156" width="49" height="14" fill="#FF0000"/>
<text x="1675.5" y="167.5" font-family='"Liberation Sans", "DejaVu Sans", sans-serif' font-size="12.5" fill="#fff" text-anchor="start" font-weight="normal">57.020</text>
<rect x="1670" y="210" width="49" height="14" fill="#000000"/>
<text x="1675.5" y="221.5" font-family='"Liberation Sans", "DejaVu Sans", sans-serif' font-size="12.5" fill="#fff" text-anchor="start" font-weight="normal">56.030</text>
<rect x="1670" y="267" width="49" height="14" fill="#00FF7F"/>
<text x="1675.5" y="278.5" font-family='"Liberation Sans", "DejaVu Sans", sans-serif' font-size="12.5" fill="#fff" text-anchor="start" font-weight="normal">55.000</text>
<rect x="1670" y="378" width="49" height="14" fill="#0000FF"/>
<text x="1675.5" y="389.5" font-family='"Liberation Sans", "DejaVu Sans", sans-serif' font-size="12.5" fill="#fff" text-anchor="start" font-weight="normal">53.000</text>
<g clip-path="url(#cmacd)">
<rect x="5" y="557" width="1" height="6" fill="#c0c0c0"/>
<rect x="13" y="557" width="1" height="6" fill="#c0c0c0"/>
<rect x="21" y="554" width="1" height="9" fill="#c0c0c0"/>
<rect x="29" y="552" width="1" height="11" fill="#c0c0c0"/>
<rect x="37" y="551" width="1" height="12" fill="#c0c0c0"/>
<rect x="45" y="548" width="1" height="15" fill="#c0c0c0"/>
<rect x="53" y="547" width="1" height="16" fill="#c0c0c0"/>
<rect x="61" y="546" width="1" height="17" fill="#c0c0c0"/>
<rect x="69" y="547" width="1" height="16" fill="#c0c0c0"/>
<rect x="77" y="548" width="1" height="15" fill="#c0c0c0"/>
<rect x="85" y="549" width="1" height="14" fill="#c0c0c0"/>
<rect x="93" y="551" width="1" height="12" fill="#c0c0c0"/>
<rect x="101" y="551" width="1" height="12" fill="#c0c0c0"/>
<rect x="109" y="554" width="1" height="9" fill="#c0c0c0"/>
<rect x="125" y="562" width="1" height="7" fill="#c0c0c0"/>
<rect x="133" y="562" width="1" height="11" fill="#c0c0c0"/>
<rect x="141" y="562" width="1" height="15" fill="#c0c0c0"/>
<rect x="149" y="562" width="1" height="16" fill="#c0c0c0"/>
<rect x="157" y="562" width="1" height="17" fill="#c0c0c0"/>
<rect x="165" y="562" width="1" height="17" fill="#c0c0c0"/>
<rect x="173" y="562" width="1" height="18" fill="#c0c0c0"/>
<rect x="181" y="562" width="1" height="18" fill="#c0c0c0"/>
<rect x="189" y="562" width="1" height="18" fill="#c0c0c0"/>
<rect x="197" y="562" width="1" height="17" fill="#c0c0c0"/>
<rect x="205" y="562" width="1" height="17" fill="#c0c0c0"/>
<rect x="213" y="562" width="1" height="17" fill="#c0c0c0"/>
<rect x="221" y="562" width="1" height="17" fill="#c0c0c0"/>
<rect x="229" y="562" width="1" height="17" fill="#c0c0c0"/>
<rect x="237" y="562" width="1" height="17" fill="#c0c0c0"/>
<rect x="245" y="562" width="1" height="16" fill="#c0c0c0"/>
<rect x="253" y="562" width="1" height="16" fill="#c0c0c0"/>
<rect x="261" y="562" width="1" height="17" fill="#c0c0c0"/>
<rect x="269" y="562" width="1" height="18" fill="#c0c0c0"/>
<rect x="277" y="562" width="1" height="19" fill="#c0c0c0"/>
<rect x="285" y="562" width="1" height="20" fill="#c0c0c0"/>
<rect x="293" y="562" width="1" height="21" fill="#c0c0c0"/>
<rect x="301" y="562" width="1" height="22" fill="#c0c0c0"/>
<rect x="309" y="562" width="1" height="28" fill="#c0c0c0"/>
<rect x="317" y="562" width="1" height="31" fill="#c0c0c0"/>
<rect x="325" y="562" width="1" height="31" fill="#c0c0c0"/>
<rect x="333" y="562" width="1" height="31" fill="#c0c0c0"/>
<rect x="341" y="562" width="1" height="30" fill="#c0c0c0"/>
<rect x="349" y="562" width="1" height="30" fill="#c0c0c0"/>
<rect x="357" y="562" width="1" height="29" fill="#c0c0c0"/>
<rect x="365" y="562" width="1" height="28" fill="#c0c0c0"/>
<rect x="373" y="562" width="1" height="27" fill="#c0c0c0"/>
<rect x="381" y="562" width="1" height="24" fill="#c0c0c0"/>
<rect x="389" y="562" width="1" height="22" fill="#c0c0c0"/>
<rect x="397" y="562" width="1" height="20" fill="#c0c0c0"/>
<rect x="405" y="562" width="1" height="15" fill="#c0c0c0"/>
<rect x="413" y="562" width="1" height="10" fill="#c0c0c0"/>
<rect x="421" y="562" width="1" height="7" fill="#c0c0c0"/>
<rect x="429" y="562" width="1" height="5" fill="#c0c0c0"/>
<rect x="437" y="562" width="1" height="3" fill="#c0c0c0"/>
<rect x="461" y="560" width="1" height="3" fill="#c0c0c0"/>
<rect x="469" y="558" width="1" height="5" fill="#c0c0c0"/>
<rect x="477" y="557" width="1" height="6" fill="#c0c0c0"/>
<rect x="485" y="556" width="1" height="7" fill="#c0c0c0"/>
<rect x="493" y="555" width="1" height="8" fill="#c0c0c0"/>
<rect x="501" y="555" width="1" height="8" fill="#c0c0c0"/>
<rect x="509" y="550" width="1" height="13" fill="#c0c0c0"/>
<rect x="517" y="545" width="1" height="18" fill="#c0c0c0"/>
<rect x="525" y="542" width="1" height="21" fill="#c0c0c0"/>
<rect x="533" y="541" width="1" height="22" fill="#c0c0c0"/>
<rect x="541" y="540" width="1" height="23" fill="#c0c0c0"/>
<rect x="549" y="542" width="1" height="21" fill="#c0c0c0"/>
<rect x="557" y="545" width="1" height="18" fill="#c0c0c0"/>
<rect x="565" y="549" width="1" height="14" fill="#c0c0c0"/>
<rect x="573" y="551" width="1" height="12" fill="#c0c0c0"/>
<rect x="581" y="553" width="1" height="10" fill="#c0c0c0"/>
<rect x="589" y="554" width="1" height="9" fill="#c0c0c0"/>
<rect x="597" y="556" width="1" height="7" fill="#c0c0c0"/>
<rect x="605" y="558" width="1" height="5" fill="#c0c0c0"/>
<rect x="613" y="560" width="1" height="3" fill="#c0c0c0"/>
<rect x="621" y="561" width="1" height="2" fill="#c0c0c0"/>
<rect x="629" y="561" width="1" height="2" fill="#c0c0c0"/>
<rect x="637" y="561" width="1" height="2" fill="#c0c0c0"/>
<rect x="645" y="561" width="1" height="2" fill="#c0c0c0"/>
<rect x="685" y="561" width="1" height="2" fill="#c0c0c0"/>
<rect x="693" y="561" width="1" height="2" fill="#c0c0c0"/>
<rect x="701" y="560" width="1" height="3" fill="#c0c0c0"/>
<rect x="709" y="559" width="1" height="4" fill="#c0c0c0"/>
<rect x="717" y="557" width="1" height="6" fill="#c0c0c0"/>
<rect x="725" y="555" width="1" height="8" fill="#c0c0c0"/>
<rect x="733" y="554" width="1" height="9" fill="#c0c0c0"/>
<rect x="741" y="553" width="1" height="10" fill="#c0c0c0"/>
<rect x="749" y="552" width="1" height="11" fill="#c0c0c0"/>
<rect x="757" y="553" width="1" height="10" fill="#c0c0c0"/>
<rect x="765" y="553" width="1" height="10" fill="#c0c0c0"/>
<rect x="773" y="554" width="1" height="9" fill="#c0c0c0"/>
<rect x="781" y="553" width="1" height="10" fill="#c0c0c0"/>
<rect x="789" y="553" width="1" height="10" fill="#c0c0c0"/>
<rect x="797" y="551" width="1" height="12" fill="#c0c0c0"/>
<rect x="805" y="551" width="1" height="12" fill="#c0c0c0"/>
<rect x="813" y="552" width="1" height="11" fill="#c0c0c0"/>
<rect x="821" y="553" width="1" height="10" fill="#c0c0c0"/>
<rect x="829" y="555" width="1" height="8" fill="#c0c0c0"/>
<rect x="837" y="556" width="1" height="7" fill="#c0c0c0"/>
<rect x="845" y="556" width="1" height="7" fill="#c0c0c0"/>
<rect x="853" y="558" width="1" height="5" fill="#c0c0c0"/>
<rect x="861" y="560" width="1" height="3" fill="#c0c0c0"/>
<rect x="869" y="561" width="1" height="2" fill="#c0c0c0"/>
<rect x="901" y="562" width="1" height="6" fill="#c0c0c0"/>
<rect x="909" y="562" width="1" height="9" fill="#c0c0c0"/>
<rect x="917" y="562" width="1" height="12" fill="#c0c0c0"/>
<rect x="925" y="562" width="1" height="14" fill="#c0c0c0"/>
<rect x="933" y="562" width="1" height="16" fill="#c0c0c0"/>
<rect x="941" y="562" width="1" height="16" fill="#c0c0c0"/>
<rect x="949" y="562" width="1" height="14" fill="#c0c0c0"/>
<rect x="957" y="562" width="1" height="13" fill="#c0c0c0"/>
<rect x="965" y="562" width="1" height="14" fill="#c0c0c0"/>
<rect x="973" y="562" width="1" height="15" fill="#c0c0c0"/>
<rect x="981" y="562" width="1" height="15" fill="#c0c0c0"/>
<rect x="989" y="562" width="1" height="15" fill="#c0c0c0"/>
<rect x="997" y="562" width="1" height="14" fill="#c0c0c0"/>
<rect x="1005" y="562" width="1" height="12" fill="#c0c0c0"/>
<rect x="1013" y="562" width="1" height="10" fill="#c0c0c0"/>
<rect x="1021" y="562" width="1" height="7" fill="#c0c0c0"/>
<rect x="1029" y="562" width="1" height="4" fill="#c0c0c0"/>
<rect x="1045" y="561" width="1" height="2" fill="#c0c0c0"/>
<rect x="1053" y="558" width="1" height="5" fill="#c0c0c0"/>
<rect x="1061" y="556" width="1" height="7" fill="#c0c0c0"/>
<rect x="1069" y="555" width="1" height="8" fill="#c0c0c0"/>
<rect x="1077" y="555" width="1" height="8" fill="#c0c0c0"/>
<rect x="1085" y="554" width="1" height="9" fill="#c0c0c0"/>
<rect x="1093" y="553" width="1" height="10" fill="#c0c0c0"/>
<rect x="1101" y="553" width="1" height="10" fill="#c0c0c0"/>
<rect x="1109" y="550" width="1" height="13" fill="#c0c0c0"/>
<rect x="1117" y="549" width="1" height="14" fill="#c0c0c0"/>
<rect x="1125" y="548" width="1" height="15" fill="#c0c0c0"/>
<rect x="1133" y="548" width="1" height="15" fill="#c0c0c0"/>
<rect x="1141" y="550" width="1" height="13" fill="#c0c0c0"/>
<rect x="1149" y="552" width="1" height="11" fill="#c0c0c0"/>
<rect x="1157" y="555" width="1" height="8" fill="#c0c0c0"/>
<rect x="1165" y="558" width="1" height="5" fill="#c0c0c0"/>
<rect x="1173" y="561" width="1" height="2" fill="#c0c0c0"/>
<rect x="1205" y="562" width="1" height="3" fill="#c0c0c0"/>
<rect x="1213" y="562" width="1" height="5" fill="#c0c0c0"/>
<rect x="1221" y="562" width="1" height="6" fill="#c0c0c0"/>
<rect x="1229" y="562" width="1" height="6" fill="#c0c0c0"/>
<rect x="1237" y="562" width="1" height="7" fill="#c0c0c0"/>
<rect x="1245" y="562" width="1" height="9" fill="#c0c0c0"/>
<rect x="1253" y="562" width="1" height="11" fill="#c0c0c0"/>
<rect x="1261" y="562" width="1" height="13" fill="#c0c0c0"/>
<rect x="1269" y="562" width="1" height="13" fill="#c0c0c0"/>
<rect x="1277" y="562" width="1" height="13" fill="#c0c0c0"/>
<rect x="1285" y="562" width="1" height="13" fill="#c0c0c0"/>
<rect x="1293" y="562" width="1" height="12" fill="#c0c0c0"/>
<rect x="1301" y="562" width="1" height="7" fill="#c0c0c0"/>
<polyline points="5,561.5 22,559.5 30,558 36.5,556.5 42,555.1 48,554 54.5,552.5 60.5,551 72,550.2 84,548.4 90,547.6 95,547.3 102,547.3 108,548.4 114,549.6 125,552.7 133,555 139,557.2 145,559.3 151,561.7 157,564.9 163,567 169,569.4 175,572 181,573.9 187,575.5 193,576.4 199,577.4 220,579 260,579 300,580.4 320,583.4 340,588.3 360,590.3 380,590.3 400,587.7 420,582.4 430,578.4 450,573.5 470,565.6 490,559.7 510,555.7 530,550.8 550,546.9 570,544.5 590,545.5 610,550.8 630,555.7 650,558.3 670,560.3 690,560.3 710,560 730,559.3 750,556.7 770,553.4 790,552.8 800,551.4 830,551.4 860,554.4 880,556.3 900,559.7 920,564.6 940,569.9 960,573.9 980,576.4 1010,575.9 1030,572.5 1050,567.6 1070,563.2 1090,557.7 1100,556.3 1120,553.8 1135,550.4 1165,550.4 1180,552.8 1200,555.7 1220,560.7 1240,563.6 1260,567.6 1280,570.5 1295,572.1 1317,570.1" fill="none" stroke="#FF0000" stroke-width="1" stroke-dasharray="3,3"/>
</g>
<text x="9" y="551" font-family='"Liberation Sans", "DejaVu Sans", sans-serif' font-size="12.5" fill="#000" text-anchor="start" font-weight="normal" textLength="175" lengthAdjust="spacingAndGlyphs">MACD(12,26,9) 0.0608 -0.2656</text>
<text x="1672.5" y="549.0" font-family='"Liberation Sans", "DejaVu Sans", sans-serif' font-size="12.5" fill="#000" text-anchor="start" font-weight="normal">0.8005</text>
<text x="1672.5" y="566.9" font-family='"Liberation Sans", "DejaVu Sans", sans-serif' font-size="12.5" fill="#000" text-anchor="start" font-weight="normal">0.00</text>
<text x="1672.5" y="593.2" font-family='"Liberation Sans", "DejaVu Sans", sans-serif' font-size="12.5" fill="#000" text-anchor="start" font-weight="normal">-1.0742</text>
<rect x="1669" y="562" width="2" height="1" fill="#000"/>
<rect x="1669" y="537" width="2" height="1" fill="#000"/>
<rect x="1669" y="595" width="2" height="1" fill="#000"/>
<rect x="1669" y="600" width="2" height="1" fill="#000"/>
<rect x="1669" y="725" width="2" height="1" fill="#000"/>
<g clip-path="url(#crsi)">
<line x1="5" y1="637.5" x2="1667" y2="637.5" stroke="#c0c0c0" stroke-dasharray="3,3"/>
<line x1="5" y1="688.5" x2="1667" y2="688.5" stroke="#c0c0c0" stroke-dasharray="3,3"/>
<polyline points="5,645.4 13,648.3 21,633.5 29,632.5 37,630.2 45,634.5 53,632.5 61,632.5 69,645.4 77,656.2 85,652.3 93,653.2 101,654.8 109,673.0 117,694.3 125,695.3 133,685.2 141,686.4 149,678.5 157,677.5 165,678.5 173,679.5 181,677.5 189,681.5 197,681.5 205,680.5 213,674.6 221,680.5 229,687.4 237,668.0 245,670.6 253,670.6 261,676.9 269,683.4 277,686.4 285,682.8 293,681.9 301,684.8 309,699.6 317,680.5 325,680.5 333,677.5 341,677.5 349,680.5 357,673.4 365,672.4 373,672.4 381,675.5 389,672.0 397,667.5 405,654.6 413,654.6 421,656.2 429,656.4 437,655.4 445,655.4 453,659.2 461,652.5 469,651.3 477,650.3 485,651.3 493,652.7 501,657.8 509,633.5 517,636.1 525,639.4 533,644.8 541,647.3 549,657.2 557,669.0 565,661.5 573,662.5 581,663.1 589,660.7 597,666.1 605,667.5 613,666.1 621,664.5 629,661.5 637,660.5 645,665.1 653,662.3 661,663.1 669,664.5 677,658.8 685,657.2 693,654.6 701,660.2 709,654.6 717,647.3 725,650.3 733,648.5 741,647.7 749,653.2 757,655.2 765,653.6 773,650.9 781,647.3 789,648.5 797,642.6 805,655.2 813,661.1 821,659.6 829,664.1 837,660.2 845,657.2 853,673.0 861,667.1 869,665.5 877,666.5 885,667.5 893,669.4 901,686.2 909,681.5 917,681.5 925,687.8 933,681.5 941,673.4 949,665.7 957,670.6 965,674.4 973,674.4 981,671.4 989,671.4 997,667.5 1005,672.4 1013,658.2 1021,652.5 1029,653.4 1037,653.4 1045,651.3 1053,649.7 1061,649.7 1069,650.3 1077,655.2 1085,650.9 1093,646.3 1101,642.6 1109,643.4 1117,644.4 1125,643.4 1133,651.3 1141,657.2 1149,670.4 1157,671.4 1165,672.4 1173,674.4 1181,668.4 1189,670.4 1197,668.4 1205,674.4 1213,674.4 1221,675.3 1229,671.4 1237,676.9 1245,683.8 1253,688.4 1261,680.5 1269,681.3 1277,675.9 1285,672.6 1293,663.1 1301,644.8 1309,643.4 1317,646.3" fill="none" stroke="#1E90FF" stroke-width="1"/>
</g>
<text x="9" y="614" font-family='"Liberation Sans", "DejaVu Sans", sans-serif' font-size="12.5" fill="#000" text-anchor="start" font-weight="normal" textLength="91.7" lengthAdjust="spacingAndGlyphs">RSI(14) 61.9435</text>
<text x="1672" y="611.9" font-family='"Liberation Sans", "DejaVu Sans", sans-serif' font-size="12.5" fill="#000" text-anchor="start" font-weight="normal">100</text>
<text x="1672" y="642.0" font-family='"Liberation Sans", "DejaVu Sans", sans-serif' font-size="12.5" fill="#000" text-anchor="start" font-weight="normal">70</text>
<text x="1672" y="692.9" font-family='"Liberation Sans", "DejaVu Sans", sans-serif' font-size="12.5" fill="#000" text-anchor="start" font-weight="normal">30</text>
<text x="1672" y="722.8" font-family='"Liberation Sans", "DejaVu Sans", sans-serif' font-size="12.5" fill="#000" text-anchor="start" font-weight="normal">0</text>
<rect x="5" y="727" width="1" height="4" fill="#000"/>
<text x="4.5" y="742" font-family='"Liberation Sans", "DejaVu Sans", sans-serif' font-size="12.5" fill="#000" text-anchor="start" font-weight="normal">30 Jul 2019</text>
<rect x="101" y="727" width="1" height="4" fill="#000"/>
<text x="100.5" y="742" font-family='"Liberation Sans", "DejaVu Sans", sans-serif' font-size="12.5" fill="#000" text-anchor="start" font-weight="normal">1 Aug 08:00</text>
<rect x="197" y="727" width="1" height="4" fill="#000"/>
<text x="196.5" y="742" font-family='"Liberation Sans", "DejaVu Sans", sans-serif' font-size="12.5" fill="#000" text-anchor="start" font-weight="normal">5 Aug 04:00</text>
<rect x="293" y="727" width="1" height="4" fill="#000"/>
<text x="292.5" y="742" font-family='"Liberation Sans", "DejaVu Sans", sans-serif' font-size="12.5" fill="#000" text-anchor="start" font-weight="normal">7 Aug 04:00</text>
<rect x="389" y="727" width="1" height="4" fill="#000"/>
<text x="388.5" y="742" font-family='"Liberation Sans", "DejaVu Sans", sans-serif' font-size="12.5" fill="#000" text-anchor="start" font-weight="normal">9 Aug 04:00</text>
<rect x="485" y="727" width="1" height="4" fill="#000"/>
<text x="484.5" y="742" font-family='"Liberation Sans", "DejaVu Sans", sans-serif' font-size="12.5" fill="#000" text-anchor="start" font-weight="normal">13 Aug 00:00</text>
<rect x="581" y="727" width="1" height="4" fill="#000"/>
<text x="580.5" y="742" font-family='"Liberation Sans", "DejaVu Sans", sans-serif' font-size="12.5" fill="#000" text-anchor="start" font-weight="normal">15 Aug 00:00</text>
<rect x="677" y="727" width="1" height="4" fill="#000"/>
<text x="676.5" y="742" font-family='"Liberation Sans", "DejaVu Sans", sans-serif' font-size="12.5" fill="#000" text-anchor="start" font-weight="normal">18 Aug 23:00</text>
<rect x="773" y="727" width="1" height="4" fill="#000"/>
<text x="772.5" y="742" font-family='"Liberation Sans", "DejaVu Sans", sans-serif' font-size="12.5" fill="#000" text-anchor="start" font-weight="normal">20 Aug 20:00</text>
<rect x="869" y="727" width="1" height="4" fill="#000"/>
<text x="868.5" y="742" font-family='"Liberation Sans", "DejaVu Sans", sans-serif' font-size="12.5" fill="#000" text-anchor="start" font-weight="normal">22 Aug 20:00</text>
<rect x="965" y="727" width="1" height="4" fill="#000"/>
<text x="964.5" y="742" font-family='"Liberation Sans", "DejaVu Sans", sans-serif' font-size="12.5" fill="#000" text-anchor="start" font-weight="normal">26 Aug 16:00</text>
<rect x="1061" y="727" width="1" height="4" fill="#000"/>
<text x="1060.5" y="742" font-family='"Liberation Sans", "DejaVu Sans", sans-serif' font-size="12.5" fill="#000" text-anchor="start" font-weight="normal">28 Aug 16:00</text>
<rect x="1157" y="727" width="1" height="4" fill="#000"/>
<text x="1156.5" y="742" font-family='"Liberation Sans", "DejaVu Sans", sans-serif' font-size="12.5" fill="#000" text-anchor="start" font-weight="normal">30 Aug 16:00</text>
<rect x="1253" y="727" width="1" height="4" fill="#000"/>
<text x="1252.5" y="742" font-family='"Liberation Sans", "DejaVu Sans", sans-serif' font-size="12.5" fill="#000" text-anchor="start" font-weight="normal">3 Sep 12:00</text>
</svg>
</body></html>
